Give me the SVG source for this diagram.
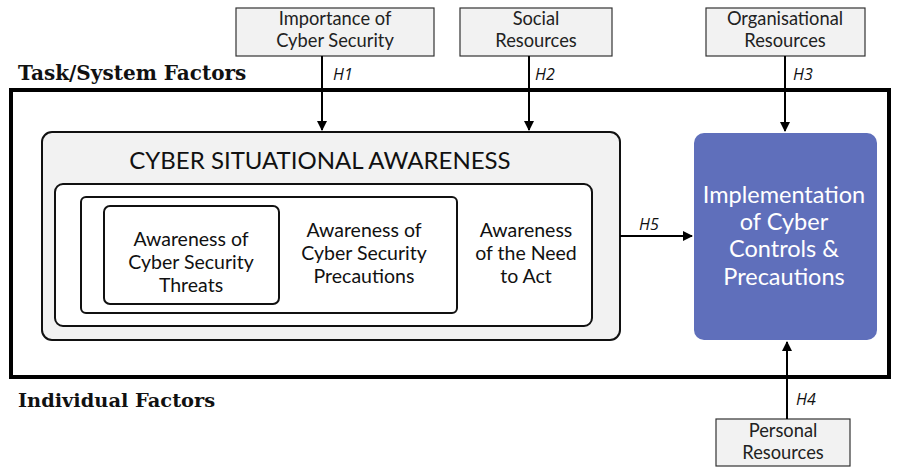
<svg xmlns="http://www.w3.org/2000/svg" width="902" height="468" viewBox="0 0 902 468">
<defs>
<marker id="ah" viewBox="0 0 10 10" refX="9" refY="5" markerWidth="10" markerHeight="10" markerUnits="userSpaceOnUse" orient="auto">
<path d="M0,0 L10,5 L0,10 Z" fill="#000"/>
</marker>
<style>
.src{fill:#f2f2f2;stroke:#333;stroke-width:1.2}
.st{font-family:Lato,"Open Sans",sans-serif;font-size:18.3px;fill:#222;text-anchor:middle}
.in{font-family:Lato,"Open Sans",sans-serif;font-size:19.5px;fill:#111;text-anchor:middle}
.hl{font-family:"Open Sans","DejaVu Sans",sans-serif;font-size:16px;font-style:italic;fill:#111}
.sec{font-family:"DejaVu Serif","Liberation Serif",serif;font-size:20px;font-weight:bold;fill:#111}
.con{stroke:#000;stroke-width:2;fill:none}
</style>
</defs>
<rect width="902" height="468" fill="#fff"/>
<g id="frame">
<rect x="11" y="90" width="878" height="287" fill="none" stroke="#000" stroke-width="4"/>
<text class="sec" x="18" y="80">Task/System Factors</text>
<text class="sec" x="18" y="407" style="font-size:19.4px">Individual Factors</text>
</g>
<g id="importance">
<rect class="src" x="236" y="8" width="198" height="48"/>
<text class="st" x="335" y="25">Importance of</text>
<text class="st" x="335" y="47">Cyber Security</text>
</g>
<g id="social">
<rect class="src" x="460" y="8" width="152" height="48"/>
<text class="st" x="536" y="25">Social</text>
<text class="st" x="536" y="47">Resources</text>
</g>
<g id="organisational">
<rect class="src" x="706" y="8" width="159" height="48"/>
<text class="st" x="785" y="25">Organisational</text>
<text class="st" x="785" y="47">Resources</text>
</g>
<g id="personal">
<rect class="src" x="716" y="419" width="134" height="47"/>
<text class="st" x="783" y="437">Personal</text>
<text class="st" x="783" y="459">Resources</text>
</g>
<g id="csa">
<rect x="42" y="132" width="578" height="208" rx="10" fill="#f2f2f2" stroke="#111" stroke-width="2"/>
<text x="320" y="169" font-family="Lato,'Open Sans',sans-serif" font-size="24" fill="#111" text-anchor="middle">CYBER SITUATIONAL AWARENESS</text>
</g>
<g id="need">
<rect x="55" y="184" width="537" height="142" rx="8" fill="#fff" stroke="#111" stroke-width="2"/>
<text class="in" x="526" y="237">Awareness</text>
<text class="in" x="526" y="260">of the Need</text>
<text class="in" x="526" y="283">to Act</text>
</g>
<g id="precautions">
<rect x="81" y="197" width="376" height="116" rx="5" fill="#fff" stroke="#111" stroke-width="2"/>
<text class="in" x="364" y="237">Awareness of</text>
<text class="in" x="364" y="260">Cyber Security</text>
<text class="in" x="364" y="283">Precautions</text>
</g>
<g id="threats">
<rect x="104" y="206" width="175" height="98" rx="6" fill="#fff" stroke="#111" stroke-width="2"/>
<text class="in" x="191" y="246">Awareness of</text>
<text class="in" x="191" y="269">Cyber Security</text>
<text class="in" x="191" y="292">Threats</text>
</g>
<g id="implementation">
<rect x="694" y="133" width="183" height="207" rx="10" fill="#5f6fbb"/>
<g font-family="Lato,'Open Sans',sans-serif" font-size="23.5" fill="#fff" text-anchor="middle">
<text x="784" y="203">Implementation</text>
<text x="784" y="230">of Cyber</text>
<text x="784" y="257">Controls &amp;</text>
<text x="784" y="285">Precautions</text>
</g>
</g>
<g id="connectors">
<line class="con" x1="322" y1="56" x2="322" y2="130" marker-end="url(#ah)"/>
<line class="con" x1="529" y1="56" x2="529" y2="130" marker-end="url(#ah)"/>
<line class="con" x1="785" y1="56" x2="785" y2="131" marker-end="url(#ah)"/>
<line class="con" x1="787" y1="419" x2="787" y2="342" marker-end="url(#ah)"/>
<line class="con" x1="620" y1="236" x2="692" y2="236" marker-end="url(#ah)"/>
<text class="hl" x="333" y="80">H1</text>
<text class="hl" x="535" y="80">H2</text>
<text class="hl" x="793" y="80">H3</text>
<text class="hl" x="796" y="405">H4</text>
<text class="hl" x="639" y="230">H5</text>
</g>
</svg>
